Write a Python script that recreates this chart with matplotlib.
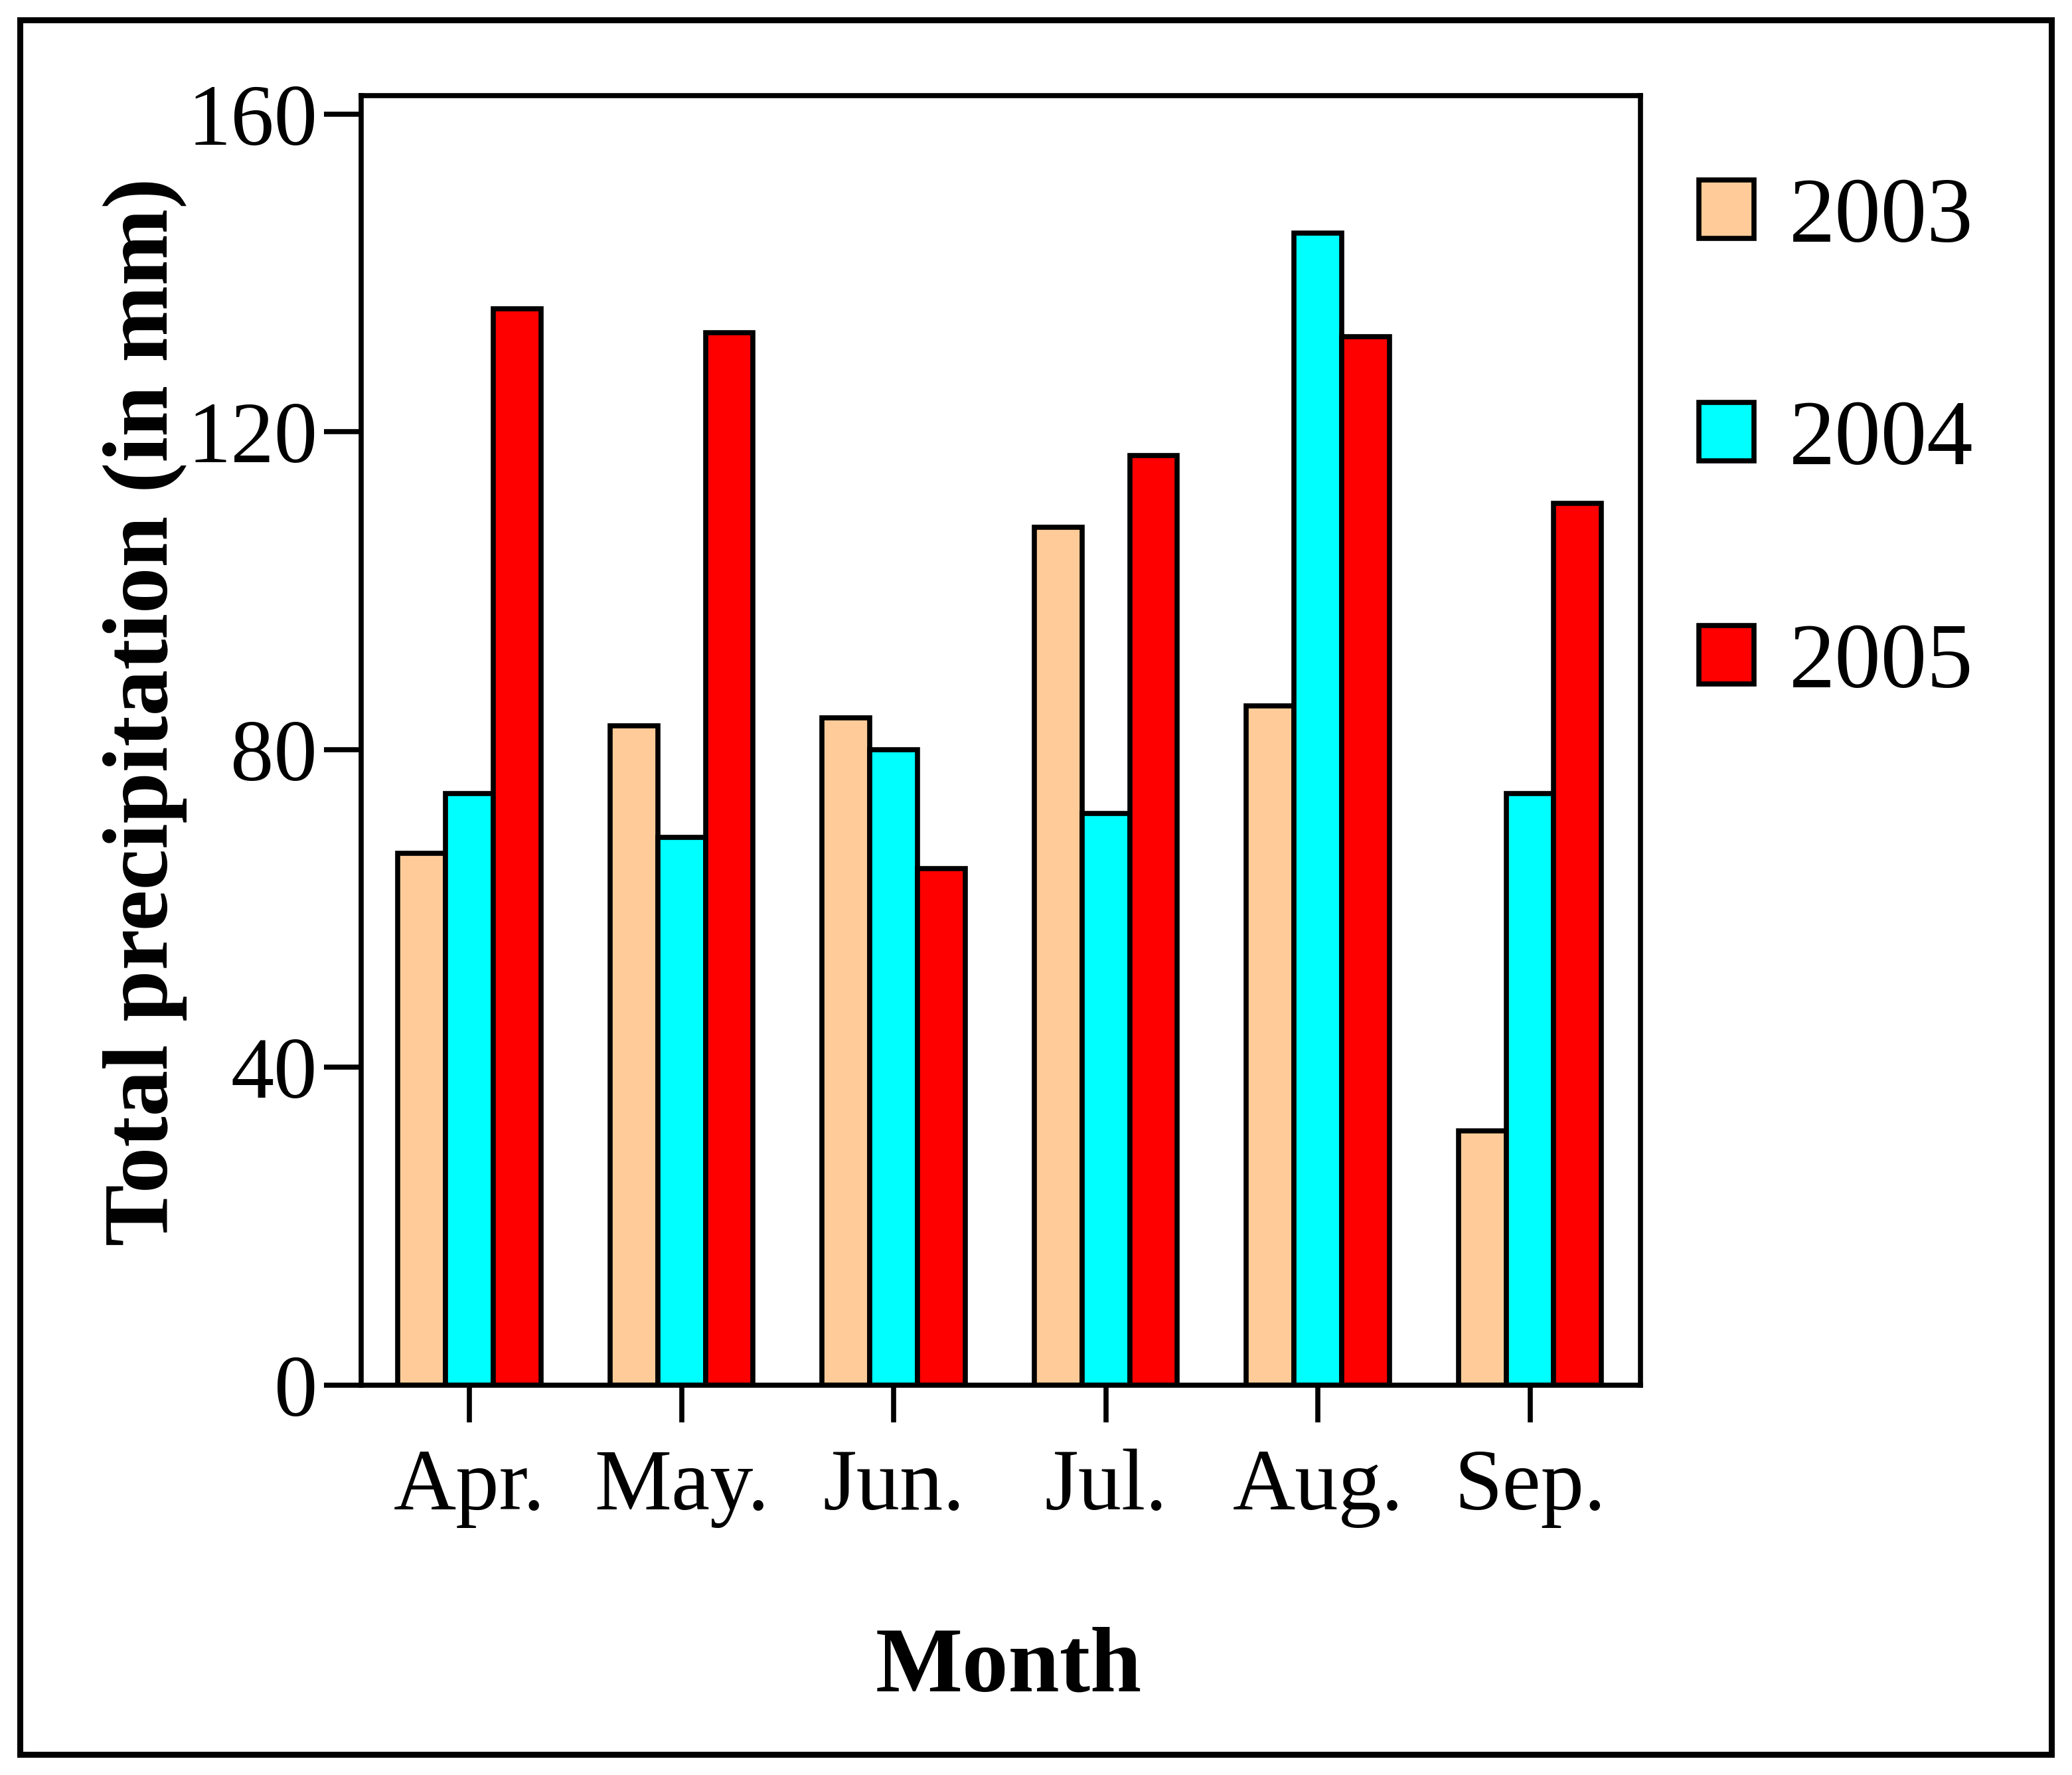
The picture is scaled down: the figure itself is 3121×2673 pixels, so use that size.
import matplotlib
matplotlib.use("Agg")
import matplotlib.pyplot as plt
import numpy as np
from matplotlib.patches import Rectangle

months = ["Apr.", "May.", "Jun.", "Jul.", "Aug.", "Sep."]
years = ["2003", "2004", "2005"]
p2003 = [67, 83, 84, 108, 85.5, 32]
p2004 = [74.5, 69, 80, 72, 145, 74.5]
p2005 = [135.5, 132.5, 65, 117, 132, 111]
colors = ["#FFCC99", "#00FFFF", "#FF0000"]
yticks = [0, 40, 80, 120, 160]

W, H = 3121, 2673
plt.rcParams['font.family'] = ['Liberation Serif', 'DejaVu Serif']
fig = plt.figure(figsize=(W / 100, H / 100), dpi=100)

LW = 5.5
ax = fig.add_axes([543.5 / W, 1 - 2086 / H, (2471 - 543.5) / W, (2086 - 144) / H])

x = np.arange(len(months))
bw = 0.225
series = [p2003, p2004, p2005]
handles = []
for i, (vals, c) in enumerate(zip(series, colors)):
    b = ax.bar(x + (i - 1) * bw, vals, width=bw, color=c, edgecolor='black',
               linewidth=LW, label=years[i], zorder=2)
    handles.append(b)

ax.set_xlim(-0.512, 5.521)
ax.set_ylim(0, 162.34)
ax.set_yticks(yticks)
ax.set_xticks(x)
ax.set_xticklabels(months)
for s in ax.spines.values():
    s.set_linewidth(LW)
    s.set_zorder(3)
ax.tick_params(axis='both', which='major', direction='out', length=40, width=LW,
               labelsize=94, colors='black')
ax.tick_params(axis='y', pad=7)
ax.tick_params(axis='x', pad=29)

fig.text(252 / W, 1 - 1072 / H, "Total precipitation (in mm)", rotation=90,
         ha='center', va='baseline', rotation_mode='anchor',
         fontsize=100, fontweight='bold')
fig.text(1519 / W, 1 - 2547 / H, "Month", ha='center', va='baseline',
         fontsize=100, fontweight='bold')

leg = ax.legend(handles=handles, labels=years, loc='upper left',
                bbox_to_anchor=(2559 / W, 1 - 267 / H), bbox_transform=fig.transFigure,
                frameon=False, fontsize=100, handlelength=0.6, handleheight=0.6,
                handletextpad=0.38, labelspacing=1.50, borderpad=0, borderaxespad=0)

fig.patches.append(Rectangle((30 / W, 1 - 2642 / H), 3060 / W, 2612 / H,
                             transform=fig.transFigure, fill=False,
                             edgecolor='black', linewidth=6.5))

fig.savefig("out.png", dpi=100)
